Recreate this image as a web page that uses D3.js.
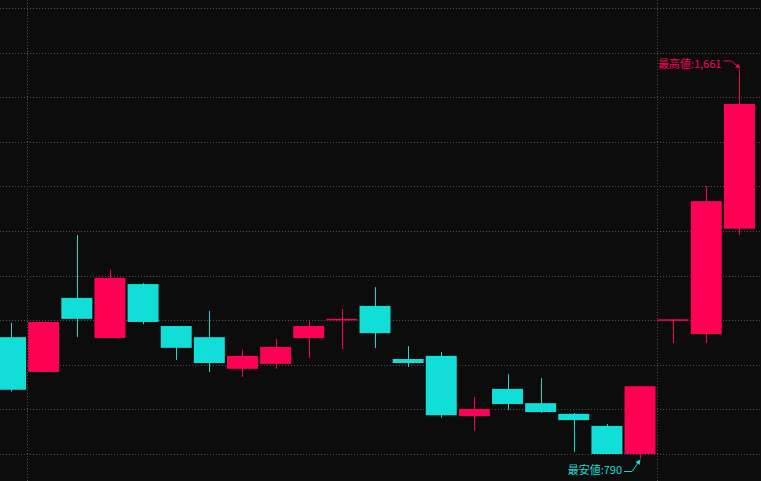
<!DOCTYPE html>
<html>
<head>
<meta charset="utf-8">
<script src="https://cdn.jsdelivr.net/npm/d3@7"></script>
<style>
  html, body { margin: 0; padding: 0; background: #0c0c0c; overflow: hidden; }
  svg { display: block; }
  .grid line { stroke: #505050; stroke-width: 1; stroke-dasharray: 1,2; }
  .note { font-family: "Noto Sans CJK JP", "Noto Sans", sans-serif; font-size: 11px; }
</style>
</head>
<body>
<div id="chart"></div>
<script>
// Configuration
const width = 761;
const height = 481;

const upColor = "#ff0055";
const downColor = "#12ded8";

// OHLC values (one per candle)
const opens  = [1062,  984, 1150, 1060, 1181, 1087, 1062,  991, 1002, 1060, 1102, 1132, 1013, 1020,  885, 946, 914, 890, 863, 800, 1102, 1069, 1305];
const highs  = [1094, 1096, 1291, 1213, 1183, 1087, 1121, 1033, 1058, 1098, 1125, 1174, 1042, 1029,  928, 979, 970, 892, 867, 952, 1102, 1401, 1661];
const lows   = [ 940,  984, 1062, 1060, 1091, 1011,  984,  973,  991, 1015, 1035, 1038,  995,  881,  852, 899, 892, 805, 800, 790, 1049, 1049, 1291];
const closes = [ 944, 1096, 1103, 1195, 1096, 1038, 1004, 1020, 1040, 1087, 1103, 1071, 1004,  887,  901, 912, 894, 876, 800, 952, 1102, 1367, 1585];

// candles that start a new period (vertical divider before them)
const periodStarts = [1, 20];

// horizontal grid values
const gridValues = [800, 900, 1000, 1100, 1200, 1300, 1400, 1500, 1600, 1700, 1800];

const candles = opens.map((o, i) => ({ i: i, open: o, high: highs[i], low: lows[i], close: closes[i] }));

const svg = d3.select("#chart")
    .append("svg")
    .attr("width", width)
    .attr("height", height);

// Scales
const x = d3.scaleBand()
    .domain(candles.map(d => d.i))
    .range([-6, 756])
    .paddingInner(0.065)
    .paddingOuter(0.0325);

const y = d3.scaleLinear()
    .domain([800, 1800])
    .range([454, 8]);

const cx = i => x(i) + x.bandwidth() / 2;

// Grid
const grid = svg.append("g").attr("class", "grid");

grid.selectAll(".h")
    .data(gridValues)
    .enter()
    .append("line")
    .attr("x1", 0)
    .attr("x2", width)
    .attr("y1", d => Math.round(y(d)) + 0.5)
    .attr("y2", d => Math.round(y(d)) + 0.5);

grid.selectAll(".v")
    .data(periodStarts)
    .enter()
    .append("line")
    .attr("x1", d => Math.round(x(d) - x.step() * x.paddingInner() / 2) + 0.5)
    .attr("x2", d => Math.round(x(d) - x.step() * x.paddingInner() / 2) + 0.5)
    .attr("y1", 0)
    .attr("y2", height);

// Candles
const colorOf = d => d.close >= d.open ? upColor : downColor;

const candle = svg.selectAll(".candle")
    .data(candles)
    .enter()
    .append("g")
    .attr("class", "candle");

candle.append("line")
    .attr("x1", d => Math.round(cx(d.i)) + 0.5)
    .attr("x2", d => Math.round(cx(d.i)) + 0.5)
    .attr("y1", d => y(d.high))
    .attr("y2", d => y(d.low))
    .attr("stroke", colorOf)
    .attr("stroke-width", 1);

candle.append("rect")
    .attr("x", d => x(d.i))
    .attr("width", x.bandwidth())
    .attr("y", d => y(Math.max(d.open, d.close)))
    .attr("height", d => Math.max(1.5, Math.abs(y(d.open) - y(d.close))))
    .attr("fill", colorOf);

// High / low annotations
const hiIdx = d3.maxIndex(candles, d => d.high);
const loIdx = d3.minIndex(candles, d => d.low);

const defs = svg.append("defs");
[["arrow-up", upColor], ["arrow-down", downColor]].forEach(([id, c]) => {
    defs.append("marker")
        .attr("id", id)
        .attr("viewBox", "0 0 6 6")
        .attr("refX", 3)
        .attr("refY", 3)
        .attr("markerWidth", 5)
        .attr("markerHeight", 5)
        .attr("orient", "auto")
        .append("path")
        .attr("d", "M0,0 L6,3 L0,6 Z")
        .attr("fill", c);
});

function note(idx, value, label, color, markerId, below) {
    const px = cx(idx);
    const py = y(value);
    const dir = below ? 1 : -1;
    const tipY = py + dir * 3;
    const elbowY = below ? py + 13 : py - 9;
    const path = d3.path();
    path.moveTo(px - 16, elbowY);
    path.lineTo(px - 8, elbowY);
    path.lineTo(px - 1, tipY);
    svg.append("path")
        .attr("d", path.toString())
        .attr("fill", "none")
        .attr("stroke", color)
        .attr("stroke-width", 1)
        .attr("marker-end", `url(#${markerId})`);
    svg.append("text")
        .attr("class", "note")
        .attr("x", px - 18)
        .attr("y", below ? elbowY + 2.5 : elbowY + 7)
        .attr("text-anchor", "end")
        .attr("fill", color)
        .text(label);
}

note(hiIdx, candles[hiIdx].high, "最高値:" + d3.format(",")(candles[hiIdx].high), upColor, "arrow-up", false);
note(loIdx, candles[loIdx].low, "最安値:" + d3.format(",")(candles[loIdx].low), downColor, "arrow-down", true);
</script>
</body>
</html>
